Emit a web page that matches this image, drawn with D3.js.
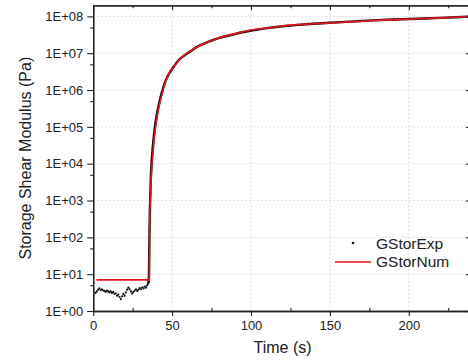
<!DOCTYPE html>
<html>
<head>
<meta charset="utf-8">
<script src="https://cdn.jsdelivr.net/npm/d3@7"></script>
<style>
  html, body { margin: 0; padding: 0; background: #fff; }
  svg { display: block; font-family: "Liberation Sans", Arial, sans-serif; }
</style>
</head>
<body>
<svg id="chart" width="468" height="363"></svg>
<script>
// experimental storage modulus (Pa) vs time (s)
const expTime = [1.5, 2.3, 3.1, 3.9, 4.7, 5.5, 6.3, 7.1, 7.9, 8.7, 9.5, 10.3, 11.1, 11.9, 12.7,
	13.5, 14.3, 15.1, 15.9, 16.7, 17.5, 18.3, 19.1, 19.9, 20.7, 21.5, 22.3, 23.1, 23.9, 24.7,
	25.5, 26.3, 27.1, 27.9, 28.7, 29.5, 30.3, 31.1, 31.9, 32.7, 33.5, 34.1, 34.6, 35.0,
	35.2, 35.4, 35.5, 35.7, 35.9, 36.2, 36.6, 37.1, 37.7, 38.5, 39.5, 40.5, 42, 43.5, 45,
	47, 49, 51, 53, 55, 58, 61, 65, 70, 75, 80, 87, 93, 100, 110, 120, 130, 140, 150,
	160, 170, 180, 190, 200, 210, 220, 230, 240];
const expG = [3.1, 3.4, 3.8, 4.1, 3.7, 3.9, 3.6, 3.5, 3.3, 3.6, 3.4, 3.2, 3.4, 3.1, 3.3,
	2.9, 3.0, 2.6, 2.8, 2.4, 2.1, 2.5, 2.9, 2.6, 3.2, 3.8, 4.3, 3.9, 3.4, 3.0,
	3.3, 3.6, 3.9, 3.5, 3.8, 4.2, 3.9, 4.4, 4.1, 4.6, 4.3, 4.9, 5.4, 5.8,
	7, 15, 40, 150, 500, 1500, 5000, 1.2e4, 2.6e4, 6e4, 1.3e5, 2.4e5, 4.8e5, 8.5e5, 1.4e6,
	2.3e6, 3.2e6, 4.3e6, 5.6e6, 7e6, 8.8e6, 1.08e7, 1.42e7, 1.8e7, 2.2e7, 2.6e7, 3.1e7, 3.6e7, 4.1e7, 4.8e7, 5.4e7, 5.9e7, 6.3e7, 6.7e7,
	7.1e7, 7.5e7, 7.9e7, 8.2e7, 8.5e7, 8.8e7, 9.1e7, 9.5e7, 1.0e8];

// numerical model
const numTime = [2, 35.6, 35.65, 35.8, 36.2, 36.9, 37.9, 39, 40.2, 42, 44, 46, 48.5, 51, 55,
	60, 65.6, 70, 76, 87, 93, 99, 110, 125, 140, 150, 170, 182, 203, 220, 240];
const numG = [7, 7, 30, 200, 1000, 5000, 2e4, 6.3e4, 1.5e5, 4e5, 8.9e5, 1.8e6, 3e6, 4.2e6, 6.9e6,
	1.05e7, 1.45e7, 1.8e7, 2.3e7, 3.2e7, 3.6e7, 4.2e7, 4.8e7, 5.8e7, 6.3e7, 6.6e7, 7.4e7, 7.9e7, 8.5e7, 9.1e7, 1.0e8];

// ticks
const xTicks = [0, 50, 100, 150, 200];
const xMinor = [25, 75, 125, 175, 225];
const yTicks = [1, 1e1, 1e2, 1e3, 1e4, 1e5, 1e6, 1e7, 1e8];
const yMinor = [5, 5e1, 5e2, 5e3, 5e4, 5e5, 5e6, 5e7];
const seriesNames = ['GStorExp', 'GStorNum'];

const svg = d3.select('#chart');
const plotLeft = 93.2, plotRight = 471.9, plotTop = 5.3, plotBottom = 311;

const x = d3.scaleLinear().domain([0, 240]).range([plotLeft, plotRight]);
const y = d3.scaleLog().domain([1, 2e8]).range([plotBottom, plotTop]);

const fmt = d => '1E+' + String(Math.round(Math.log10(d))).padStart(2, '0');

// grid
const grid = svg.append('g')
	.attr('stroke', '#d4d4d4')
	.attr('stroke-width', 0.8)
	.attr('stroke-dasharray', '2,2');
grid.selectAll('.gx').data(xTicks.slice(1)).enter().append('line')
	.attr('x1', d => x(d)).attr('x2', d => x(d))
	.attr('y1', plotTop).attr('y2', plotBottom);
grid.selectAll('.gy').data(yTicks.slice(1)).enter().append('line')
	.attr('y1', d => y(d)).attr('y2', d => y(d))
	.attr('x1', plotLeft).attr('x2', plotRight);

svg.append('clipPath').attr('id', 'clip')
	.append('rect')
	.attr('x', plotLeft).attr('y', plotTop)
	.attr('width', plotRight - plotLeft).attr('height', plotBottom - plotTop);

const plot = svg.append('g').attr('clip-path', 'url(#clip)');

const expPts = expTime.map((t, i) => [t, expG[i]]);
const numPts = numTime.map((t, i) => [t, numG[i]]);

const lineGen = d3.line()
	.x(d => x(d[0]))
	.y(d => y(d[1]))
	.curve(d3.curveMonotoneX);

// dense experimental sampling after gelation reads as a continuous line
plot.append('path')
	.attr('d', lineGen(expPts.filter(d => d[0] >= 35)))
	.attr('fill', 'none')
	.attr('stroke', '#111')
	.attr('stroke-width', 2.4);

plot.selectAll('.exp').data(expPts).enter().append('circle')
	.attr('cx', d => x(d[0]))
	.attr('cy', d => y(d[1]))
	.attr('r', 1.1)
	.attr('fill', '#111');

plot.append('path')
	.attr('d', d3.line().x(d => x(d[0])).y(d => y(d[1]))(numPts.slice(0, 3)) +
		lineGen(numPts.slice(2)).replace(/^M/, 'L'))
	.attr('fill', 'none')
	.attr('stroke', '#e8141c')
	.attr('stroke-width', 1.6);

// axes
const axisStyle = g => {
	g.selectAll('.domain').attr('stroke', '#222').attr('stroke-width', 1.3);
	g.selectAll('.tick line').attr('stroke', '#222').attr('stroke-width', 1.1);
	g.selectAll('.tick text').attr('fill', '#222').style('font-size', '13px')
		.style('font-family', '"Liberation Sans", Arial, sans-serif');
};

svg.append('g')
	.attr('transform', `translate(0,${plotBottom})`)
	.call(d3.axisBottom(x).tickValues(xTicks).tickFormat(d3.format('d')).tickSize(5).tickSizeOuter(0).tickPadding(5))
	.call(axisStyle);
svg.append('g')
	.attr('transform', `translate(0,${plotBottom})`)
	.call(d3.axisBottom(x).tickValues(xMinor).tickFormat('').tickSize(-3).tickSizeOuter(0))
	.call(axisStyle);
svg.append('g')
	.attr('transform', `translate(0,${plotTop})`)
	.call(d3.axisTop(x).tickValues(xTicks).tickFormat('').tickSize(-5).tickSizeOuter(0))
	.call(axisStyle);
svg.append('g')
	.attr('transform', `translate(0,${plotTop})`)
	.call(d3.axisTop(x).tickValues(xMinor).tickFormat('').tickSize(-3).tickSizeOuter(0))
	.call(axisStyle);

svg.append('g')
	.attr('transform', `translate(${plotLeft},0)`)
	.call(d3.axisLeft(y).tickValues(yTicks).tickFormat(fmt).tickSize(6).tickSizeOuter(0).tickPadding(4))
	.call(axisStyle);
svg.append('g')
	.attr('transform', `translate(${plotLeft},0)`)
	.call(d3.axisLeft(y).tickValues(yMinor).tickFormat('').tickSize(3).tickSizeOuter(0))
	.call(axisStyle);
svg.append('g')
	.attr('transform', `translate(${plotRight},0)`)
	.call(d3.axisRight(y).tickValues(yTicks).tickFormat('').tickSize(-6).tickSizeOuter(0))
	.call(axisStyle);

// axis titles
svg.append('text')
	.attr('x', (plotLeft + plotRight) / 2)
	.attr('y', 353)
	.attr('text-anchor', 'middle')
	.attr('fill', '#222')
	.style('font-size', '16px')
	.text('Time (s)');

svg.append('text')
	.attr('transform', `translate(31,${(plotTop + plotBottom) / 2}) rotate(-90)`)
	.attr('text-anchor', 'middle')
	.attr('fill', '#222')
	.style('font-size', '16px')
	.text('Storage Shear Modulus (Pa)');

// legend
const legend = svg.append('g').attr('transform', 'translate(335,243)');
legend.append('circle').attr('cx', 18).attr('cy', 0).attr('r', 1.3).attr('fill', '#111');
legend.append('line').attr('x1', 0).attr('x2', 36).attr('y1', 19).attr('y2', 19)
	.attr('stroke', '#e8141c').attr('stroke-width', 1.6);
legend.selectAll('.lt').data(seriesNames).enter().append('text')
	.attr('x', 41)
	.attr('y', (d, i) => 5.5 + i * 18.5)
	.attr('fill', '#222')
	.style('font-size', '15.5px')
	.text(d => d);
</script>
</body>
</html>
